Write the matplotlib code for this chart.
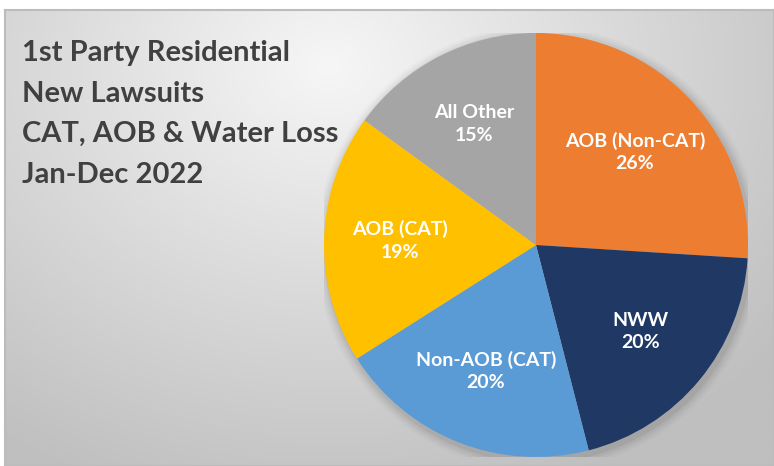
import numpy as np
import matplotlib
matplotlib.use("Agg")
import matplotlib.pyplot as plt
from matplotlib.colors import LinearSegmentedColormap

categories = ["AOB (Non-CAT)", "NWW", "Non-AOB (CAT)", "AOB (CAT)", "All Other"]
values = [26, 20, 20, 19, 15]
colors = ["#ED7D31", "#203864", "#5B9BD5", "#FFC000", "#A5A5A5"]
title_lines = ["1st Party Residential", "New Lawsuits", "CAT, AOB & Water Loss", "Jan-Dec 2022"]

W, H = 774, 466
fig = plt.figure(figsize=(W / 100, H / 100), dpi=100)
fig.patch.set_facecolor("white")

# background panel with radial gradient
bx0, by_top = 5, 10
bg = fig.add_axes([bx0 / W, 0, 1 - bx0 / W, (H - by_top) / H])
ny, nx = 200, 330
yy, xx = np.mgrid[0:ny, 0:nx]
cx, cy = 0.42 * nx, 0.12 * ny
d = np.sqrt(((xx - cx) / nx) ** 2 + ((yy - cy) / ny * 0.75) ** 2)
d = np.clip(d / 0.75, 0, 1)
cmap = LinearSegmentedColormap.from_list("g", ["#f6f6f6", "#dadada", "#bfbfbf"])
bg.imshow(d, cmap=cmap, aspect="auto", extent=[0, 1, 0, 1], origin="upper", interpolation="bilinear")
bg.set_xlim(0, 1); bg.set_ylim(0, 1)
bg.set_xticks([]); bg.set_yticks([])
for s in bg.spines.values():
    s.set_color("#bcbcbc"); s.set_linewidth(1.5)

# title
for i, line in enumerate(title_lines):
    fig.text(22 / W, 1 - (53 + i * 40.5) / H, line, fontsize=21, fontweight="bold",
             color="#404040", family="Lato", va="center", ha="left")

# pie
cxp, cyp, r = 536, 245, 212
ax = fig.add_axes([(cxp - r) / W, (H - cyp - r) / H, 2 * r / W, 2 * r / H])
ax.set_facecolor("none")
# soft shadow
for k, a in enumerate([0.05, 0.04, 0.03, 0.02]):
    c = plt.Circle((0.01, -0.015), 1.0 + 0.012 * (k + 1), color="black", alpha=a, lw=0, zorder=0)
    ax.add_patch(c)
labels = [f"{c}\n{v}%" for c, v in zip(categories, values)]
wedges, texts = ax.pie(values, colors=colors, startangle=90, counterclock=False,
                       labels=labels, labeldistance=0.64,
                       wedgeprops=dict(linewidth=0, zorder=1),
                       textprops=dict(color="white", fontsize=14, fontweight="bold",
                                      family="Lato", ha="center", va="center",
                                      linespacing=1.4))
for t in texts:
    t.set_ha("center")
ax.set_xlim(-1, 1); ax.set_ylim(-1, 1)
ax.set_aspect("equal")
ax.axis("off")

fig.savefig("out.png", dpi=100)
